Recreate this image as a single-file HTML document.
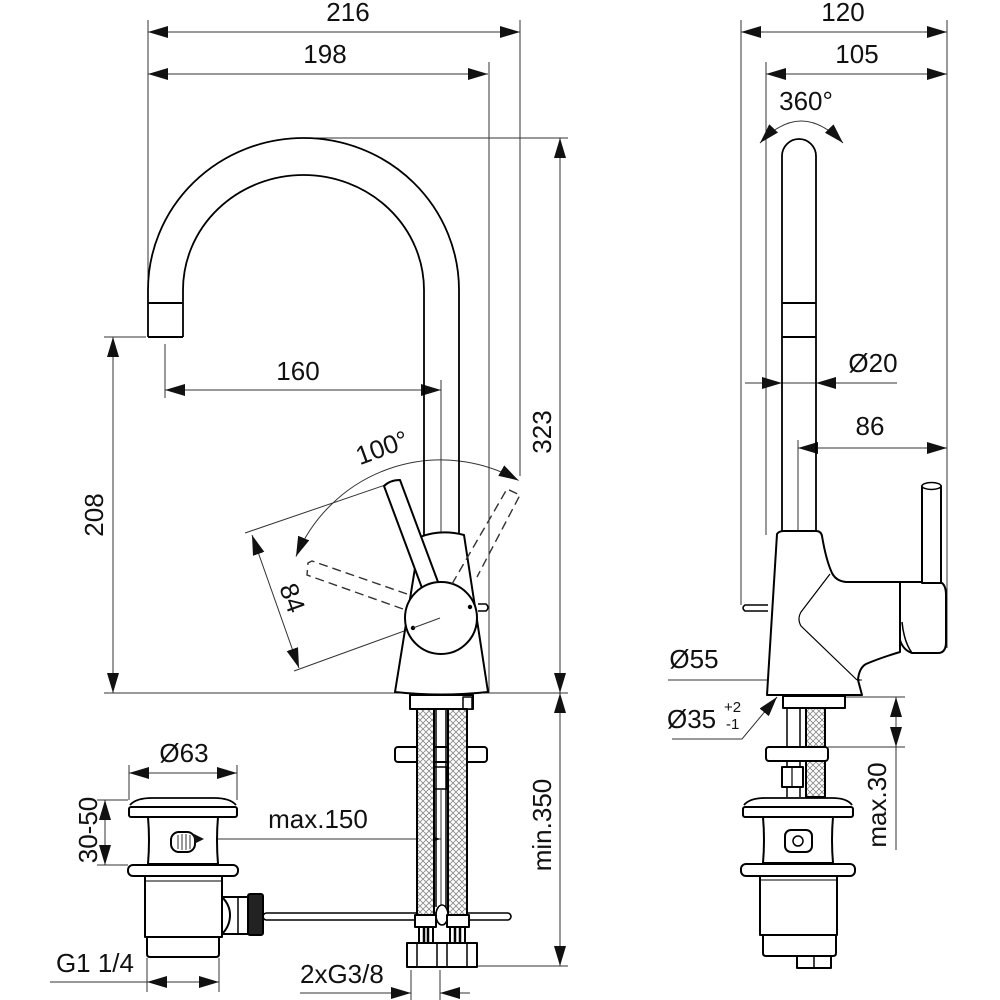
<!DOCTYPE html>
<html><head><meta charset="utf-8"><style>
html,body{margin:0;padding:0;background:#fff;}
svg{display:block;}
text{font-family:"Liberation Sans",Arial,sans-serif;font-size:26px;fill:#111;}
.sm{font-size:15px;}
</style></head><body>
<svg width="1000" height="1000" viewBox="0 0 1000 1000" xmlns="http://www.w3.org/2000/svg">
<defs>
<marker id="ar" viewBox="0 0 20 12" refX="20" refY="6" markerWidth="20" markerHeight="12" markerUnits="userSpaceOnUse" orient="auto-start-reverse"><path d="M0,0L20,6L0,12z" fill="#111"/></marker>
<pattern id="hatch" width="6" height="6" patternUnits="userSpaceOnUse"><rect width="6" height="6" fill="#fff"/><path d="M0,0L6,6M6,0L0,6" stroke="#888" stroke-width="0.8"/></pattern>
</defs>

<!-- ===== DIMENSION LINES ===== -->
<g stroke="#333" stroke-width="1" fill="none">
<line x1="148" y1="32" x2="520" y2="32" marker-start="url(#ar)" marker-end="url(#ar)"/>
<line x1="148" y1="74" x2="488" y2="74" marker-start="url(#ar)" marker-end="url(#ar)"/>
<line x1="148" y1="20" x2="148" y2="290"/>
<line x1="489" y1="62" x2="489" y2="693"/>
<line x1="520" y1="20" x2="520" y2="476"/>
<line x1="303" y1="138" x2="568" y2="138"/>
<line x1="560" y1="138" x2="560" y2="693" marker-start="url(#ar)" marker-end="url(#ar)"/>
<line x1="560" y1="693" x2="560" y2="966" marker-start="url(#ar)" marker-end="url(#ar)"/>
<line x1="478" y1="966" x2="568" y2="966"/>
<line x1="104" y1="693" x2="568" y2="693"/>
<line x1="104" y1="337" x2="146" y2="337"/>
<line x1="113" y1="337" x2="113" y2="693" marker-start="url(#ar)" marker-end="url(#ar)"/>
<line x1="165" y1="344" x2="165" y2="398"/>
<line x1="441" y1="380" x2="441" y2="533"/>
<line x1="165" y1="390" x2="441" y2="390" marker-start="url(#ar)" marker-end="url(#ar)"/>
<path d="M296,556.5 A157,157 0 0 1 518.6,480.5" marker-start="url(#ar)" marker-end="url(#ar)"/>
<line x1="400" y1="480" x2="245" y2="533"/>
<line x1="440" y1="618" x2="294" y2="671"/>
<line x1="252" y1="535" x2="299" y2="668" marker-start="url(#ar)" marker-end="url(#ar)"/>
<line x1="203" y1="839" x2="441" y2="839" marker-end="url(#ar)"/>
<line x1="441" y1="790" x2="441" y2="908"/>
<line x1="411" y1="970" x2="411" y2="1000"/>
<line x1="440" y1="970" x2="440" y2="1000"/>
<line x1="300" y1="993" x2="411" y2="993" marker-end="url(#ar)"/>
<line x1="470" y1="993" x2="440" y2="993" marker-end="url(#ar)"/>
<line x1="147" y1="958" x2="147" y2="992"/>
<line x1="219" y1="958" x2="219" y2="992"/>
<line x1="50" y1="982" x2="147" y2="982"/>
<line x1="147" y1="982" x2="219" y2="982" marker-start="url(#ar)" marker-end="url(#ar)"/>
<line x1="129" y1="765" x2="129" y2="800"/>
<line x1="237" y1="765" x2="237" y2="800"/>
<line x1="129" y1="773" x2="237" y2="773" marker-start="url(#ar)" marker-end="url(#ar)"/>
<line x1="97" y1="800" x2="128" y2="800"/>
<line x1="97" y1="865" x2="128" y2="865"/>
<line x1="105" y1="800" x2="105" y2="865" marker-start="url(#ar)" marker-end="url(#ar)"/>

<line x1="741" y1="32" x2="947" y2="32" marker-start="url(#ar)" marker-end="url(#ar)"/>
<line x1="766" y1="74" x2="947" y2="74" marker-start="url(#ar)" marker-end="url(#ar)"/>
<line x1="741" y1="20" x2="741" y2="605"/>
<line x1="947" y1="20" x2="947" y2="648"/>
<line x1="766" y1="62" x2="766" y2="535"/>
<path d="M760,143 Q801,99 843,143" marker-start="url(#ar)" marker-end="url(#ar)"/>
<line x1="745" y1="383" x2="897" y2="383"/>
<line x1="758" y1="383" x2="782" y2="383" marker-end="url(#ar)"/>
<line x1="840" y1="383" x2="816" y2="383" marker-end="url(#ar)"/>
<line x1="798" y1="440" x2="798" y2="535"/>
<line x1="798" y1="448" x2="947" y2="448" marker-start="url(#ar)" marker-end="url(#ar)"/>
<line x1="668" y1="680" x2="767" y2="680"/>
<line x1="815" y1="680" x2="767" y2="680" marker-end="url(#ar)"/>
<line x1="815" y1="680" x2="862" y2="680" marker-end="url(#ar)"/>
<polyline points="672,739 742,739 777,697" marker-end="url(#ar)"/>
<line x1="845" y1="697" x2="905" y2="697"/>
<line x1="828" y1="747" x2="905" y2="747"/>
<line x1="896" y1="697" x2="896" y2="747" marker-start="url(#ar)" marker-end="url(#ar)"/>
<line x1="896" y1="747" x2="896" y2="850"/>
</g>

<!-- ===== MAIN VIEW OUTLINES ===== -->
<g stroke="#000" stroke-width="2" fill="none" stroke-linejoin="round">
<path d="M148,337 L148,290 A155.5,152 0 0 1 459,290 L459,535" stroke-width="1.8"/>
<path d="M183,337 L183,290 A120.5,115 0 0 1 424,290 L424,535" stroke-width="1.8"/>
<line x1="148" y1="303" x2="183" y2="303"/>
<line x1="148" y1="337" x2="183" y2="337"/>

<rect x="410" y="695" width="63" height="14" fill="#fff"/>
<rect x="463" y="697" width="9" height="12" fill="#fff" stroke-width="1.5"/>
<rect x="395" y="747" width="92" height="15" rx="3" fill="#fff"/>
<rect x="434" y="767" width="13" height="22" fill="#fff" stroke-width="1.5"/>
<line x1="436" y1="709" x2="436" y2="907" stroke-width="1.5"/>
<line x1="446" y1="709" x2="446" y2="907" stroke-width="1.5"/>
<rect x="263" y="913" width="248" height="7" rx="3.5" fill="#fff" stroke-width="1.6"/>
<rect x="417" y="709" width="17" height="206" fill="url(#hatch)"/>
<rect x="448" y="709" width="19" height="206" fill="url(#hatch)"/>
<ellipse cx="442" cy="915" rx="6" ry="10" fill="#fff" stroke-width="1.6"/>
<rect x="415" y="915" width="21" height="12" fill="#fff"/>
<rect x="447" y="915" width="22" height="12" fill="#fff"/>
<rect x="419" y="927" width="14" height="16" fill="#fff"/>
<rect x="450" y="927" width="15" height="16" fill="#fff"/>
<path d="M424,927V943M428,927V943M455,927V943M460,927V943" stroke-width="2.5"/>
<rect x="407" y="943" width="70" height="24" fill="#fff"/>
<path d="M417,943V967M437,943V967M447,943V967M467,943V967" stroke-width="1.5"/>

<path d="M420,537 Q441,529 464,535 L488,692 Q441,697 395,692 Z" fill="#fff"/>
<path d="M384,486 Q390,480 400,480 L438,582 L422,588 Z" fill="#fff"/>
<circle cx="441" cy="618" r="36" fill="#fff"/>
<path d="M478,604 L486,604 Q490,607.5 486,611 L478,611" fill="#fff" stroke-width="1.5"/>
</g>
<circle cx="470" cy="607" r="2.2" fill="#000"/>
<circle cx="413" cy="628" r="2.2" fill="#000"/>
<line x1="440" y1="618" x2="413" y2="628" stroke="#333" stroke-width="1"/>
<g stroke="#333" stroke-width="1.4" fill="none" stroke-dasharray="9,5">
<path d="M407,594 L312,561 L308,563 L307,575 L403,609"/>
<path d="M452,584 L507,489 L520,495 L477,577"/>
</g>

<!-- left drain -->
<g stroke="#000" stroke-width="2" fill="#fff" stroke-linejoin="round">
<path d="M130,805 Q136,798 152,798 L214,798 Q230,798 236,805" fill="none" stroke-width="1.8"/>
<rect x="129" y="807" width="108" height="10" rx="2"/>
<path d="M148,817 Q150,840 148,864 L218,864 Q216,840 218,817 Z"/>
<rect x="128" y="865" width="110" height="11" rx="5"/>
<rect x="145" y="876" width="77" height="61"/>
<line x1="145" y1="881" x2="222" y2="881" stroke-width="1"/>
<path d="M147,937 L219,937 L219,954 Q219,957 216,957 L150,957 Q147,957 147,954 Z"/>
<path d="M222,897 Q230,905 230,915 Q230,926 222,934 L248,934 L248,897 Z"/>
<line x1="238" y1="897" x2="238" y2="934" stroke-width="1.5"/>
<rect x="248" y="894" width="15" height="41" rx="2" fill="#222"/>
<rect x="171" y="832" width="24" height="20" rx="8"/>
</g>
<path d="M178,835V849M182,834V850M186,834V850M190,835V849" stroke="#555" stroke-width="1.2"/>
<path d="M194,834 L204,839 L194,844 Z" fill="#111"/>

<!-- ===== SIDE VIEW ===== -->
<g stroke="#000" stroke-width="2" fill="none" stroke-linejoin="round">
<path d="M782,533 L782,156 A17,17 0 0 1 816,156 L816,533" stroke-width="1.8"/>
<line x1="782" y1="303" x2="816" y2="303"/>
<line x1="782" y1="337" x2="816" y2="337"/>
<path d="M768,605 L745,605 Q741,608 745,611 L768,611" fill="#fff" stroke-width="1.5"/>
<path d="M777,534 Q779,531 784,531 L816,531 Q821,531 822,536 Q826,560 832,573 Q836,581 846,582 L900,582 L900,652 Q880,658 866,664 Q859,668 858,680 L862,695 L767,695 Z" fill="#fff"/>
<path d="M830,574 L801,612 Q797,619 801,626 L857,680" stroke-width="1.2"/>
<path d="M900,582 L940,582 Q946,584 946,595 L946,642 Q946,653 938,653 L912,653 Q903,650 900,640 Z" fill="#fff"/>
<path d="M902,622 Q904,642 912,653" stroke-width="1.5"/>
<rect x="922" y="486" width="19" height="97" fill="#fff"/>
<ellipse cx="931.5" cy="486" rx="9.5" ry="3.5" fill="#fff" stroke-width="1.5"/>

<rect x="783" y="696" width="62" height="12" fill="#fff"/>
<line x1="787" y1="708" x2="787" y2="797" stroke-width="1.5"/>
<line x1="800" y1="708" x2="800" y2="797" stroke-width="1.5"/>
<rect x="806" y="708" width="19" height="89" fill="url(#hatch)"/>
<rect x="766" y="747" width="62" height="14" rx="3" fill="#fff"/>
<rect x="782" y="767" width="21" height="20" fill="#fff"/>
<line x1="792" y1="767" x2="792" y2="787" stroke-width="1.2"/>

<path d="M744,805 Q750,798 765,798 L832,798 Q847,798 852,805" fill="none" stroke-width="1.8"/>
<rect x="743" y="807" width="110" height="10" rx="2" fill="#fff"/>
<path d="M763,817 Q765,840 763,863 L833,863 Q831,840 833,817 Z" fill="#fff"/>
<rect x="785" y="830" width="27" height="22" rx="6" fill="#fff"/>
<circle cx="798" cy="841" r="5" fill="#fff" stroke-width="1.5"/>
<rect x="741" y="864" width="114" height="12" rx="5" fill="#fff"/>
<rect x="760" y="876" width="77" height="59" fill="#fff"/>
<line x1="760" y1="880" x2="837" y2="880" stroke-width="1"/>
<path d="M763,935 L836,935 L836,953 Q836,956 833,956 L766,956 Q763,956 763,953 Z" fill="#fff"/>
<rect x="797" y="956" width="34" height="12" fill="#fff"/>
<line x1="814" y1="956" x2="814" y2="968" stroke-width="1.5"/>
</g>

<!-- ===== TEXT ===== -->
<text x="348" y="21" text-anchor="middle">216</text>
<text x="325" y="63" text-anchor="middle">198</text>
<text x="298" y="380" text-anchor="middle">160</text>
<text x="318" y="828" text-anchor="middle">max.150</text>
<text x="300" y="983">2xG3/8</text>
<text x="134" y="972" text-anchor="end">G1 1/4</text>
<text x="184" y="762" text-anchor="middle">Ø63</text>
<text transform="translate(103,515) rotate(-90)" text-anchor="middle">208</text>
<text transform="translate(551,432) rotate(-90)" text-anchor="middle">323</text>
<text transform="translate(551,825) rotate(-90)" text-anchor="middle">min.350</text>
<text transform="translate(97,830) rotate(-90)" text-anchor="middle">30-50</text>
<text transform="translate(385,456) rotate(-20)" text-anchor="middle">100°</text>
<text transform="translate(284,601) rotate(70)" text-anchor="middle">84</text>

<text x="843" y="21" text-anchor="middle">120</text>
<text x="857" y="63" text-anchor="middle">105</text>
<text x="806" y="110" text-anchor="middle">360°</text>
<text x="873" y="372" text-anchor="middle">Ø20</text>
<text x="870" y="435" text-anchor="middle">86</text>
<text x="694" y="668" text-anchor="middle">Ø55</text>
<text x="667" y="728">Ø35</text>
<text class="sm" x="724" y="712">+2</text>
<text class="sm" x="726" y="729">-1</text>
<text transform="translate(886,805) rotate(-90)" text-anchor="middle">max.30</text>
</svg>
</body></html>
